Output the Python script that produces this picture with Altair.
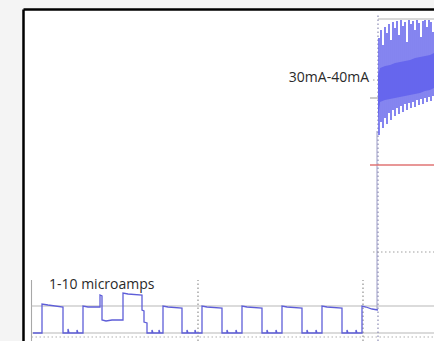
import altair as alt
import pandas as pd

# ---------------- data (time units on x, signal level units on y) ----------------
# lower trace: first irregular part (explicit vertices)
TRACE_T_START = [10, 19, 19, 25, 40, 40, 45, 45, 46, 54, 54, 55, 60, 60, 65, 77, 77, 79, 79, 83, 89, 100,
                 100, 105, 119, 119, 121, 121, 124, 124, 129, 129, 130, 136, 136, 137, 140, 140, 145, 159, 159,
                 164, 164, 165, 172, 172, 173]
TRACE_V_START = [8, 8, 37, 36, 34, 8, 8, 12, 8, 8, 11, 8, 8, 35, 34, 34, 46, 45, 21, 20, 21, 21,
                 48, 47, 46, 31, 30, 19, 18, 8, 8, 11, 8, 8, 11, 8, 8, 35, 34, 33, 8,
                 8, 11, 8, 8, 11, 8]
# regular pulses
PULSE_RISE = [179, 219, 259, 299]
PULSE_FALL = [199, 239, 279, 319]
HIGH_A, HIGH_B, LOW, SPIKE = 35, 33, 8, 11
SPIKE_OFFSETS = [5, 14]
# final high step before the burst
TRACE_T_END = [339, 339, 343, 349, 355]
TRACE_V_END = [8, 35, 34, 32, 31]

# burst (30mA-40mA) : individual spikes
BURST_T = [356, 358, 360, 362, 364, 366, 368, 370, 372, 374, 376, 378, 380, 382,
           384, 386, 388, 390, 392, 394, 396, 398, 400, 402, 404, 406, 408, 410]
BURST_TOP = [303, 311, 296, 314, 308, 317, 301, 319, 313, 320, 306, 321, 315, 319,
             299, 321, 317, 320, 311, 321, 318, 304, 320, 321, 314, 321, 319, 309]
BURST_BOTTOM = [206, 219, 213, 223, 217, 228, 221, 231, 225, 233, 227, 235, 229, 237,
                231, 238, 233, 239, 234, 241, 236, 242, 237, 243, 239, 244, 240, 245]
# burst dense core envelope
CORE_T = [355, 357, 362, 367, 372, 377, 382, 387, 392, 397, 402, 407, 411]
CORE_TOP = [266, 273, 275, 276, 278, 279, 280, 281, 283, 284, 285, 286, 288]
CORE_BOTTOM = [221, 239, 241, 242, 243, 244, 245, 246, 247, 248, 250, 251, 253]

# reference lines (the last one is the faint jump of the trace into the burst)
SOLID_T = [8.5, 8.5, 8.5, 355, 347, 354]
SOLID_T2 = [8.5, 411, 411, 411, 355, 354]
SOLID_V = [0, 35, 8, 322, 243, 32]
SOLID_V2 = [61, 35, 8, 322, 243, 210]
SOLID_COLOR = ["#a8a8a8", "#b8b8b8", "#b8b8b8", "#b4b4b4", "#a0a0a0", "#a4a4cc"]

DOT_T = [8.5, 175, 340, 355, 350, 350]
DOT_T2 = [411, 175, 340, 355, 411, 355]
DOT_V = [4, 0, 0, 0, 89, 261]
DOT_V2 = [4, 61, 61, 326, 89, 261]
DOT_COLOR = ["#b0b0b0", "#909090", "#909090", "#8c8cb4", "#a0a0a0", "#a0a0a0"]

RED_T, RED_T2, RED_V = [347], [411], [176]

LABELS = ["30mA-40mA", "1-10 microamps"]
LABEL_T = [346, 26]
LABEL_V = [259, 52]
LABEL_ALIGN = ["right", "left"]

# ---------------- build tables ----------------
tt = list(TRACE_T_START)
vv = list(TRACE_V_START)
for r, f in zip(PULSE_RISE, PULSE_FALL):
    tt += [r, r, r + 5, f, f]
    vv += [LOW, HIGH_A, HIGH_A - 1, HIGH_B, LOW]
    for o in SPIKE_OFFSETS:
        tt += [f + o, f + o, f + o + 1]
        vv += [LOW, SPIKE, LOW]
tt += TRACE_T_END
vv += TRACE_V_END
trace = pd.DataFrame({"t": tt, "v": vv, "i": range(len(tt))})

burst = pd.DataFrame({"t": BURST_T, "top": BURST_TOP, "bottom": BURST_BOTTOM})
core = pd.DataFrame({"t": CORE_T, "top": CORE_TOP, "bottom": CORE_BOTTOM})
solid = pd.DataFrame({"t": SOLID_T, "t2": SOLID_T2, "v": SOLID_V, "v2": SOLID_V2, "c": SOLID_COLOR})
dots = pd.DataFrame({"t": DOT_T, "t2": DOT_T2, "v": DOT_V, "v2": DOT_V2, "c": DOT_COLOR})
red = pd.DataFrame({"t": RED_T, "t2": RED_T2, "v": RED_V})
labels = pd.DataFrame({"label": LABELS, "t": LABEL_T, "v": LABEL_V, "align": LABEL_ALIGN})

XS = alt.Scale(domain=[0, 411], nice=False, zero=False)
YS = alt.Scale(domain=[0, 332], nice=False, zero=False)
AX_X = alt.Axis(orient="top", domainColor="black", domainWidth=2.5, labels=False,
                ticks=False, grid=False, title=None)
AX_Y = alt.Axis(orient="left", domainColor="black", domainWidth=2.5, labels=False,
                ticks=False, grid=False, title=None)


def X(field="t"):
    return alt.X(f"{field}:Q", scale=XS, axis=AX_X)


def Y(field="v"):
    return alt.Y(f"{field}:Q", scale=YS, axis=AX_Y)


solid_layer = alt.Chart(solid).mark_rule(strokeWidth=1.1).encode(
    x=X(), x2="t2:Q", y=Y(), y2="v2:Q",
    color=alt.Color("c:N", scale=None))

dot_layer = alt.Chart(dots).mark_rule(strokeWidth=1.2, strokeDash=[1.5, 2.5]).encode(
    x=X(), x2="t2:Q", y=Y(), y2="v2:Q", color=alt.Color("c:N", scale=None))

red_layer = alt.Chart(red).mark_rule(strokeWidth=1.6, color="#e07474").encode(
    x=X(), x2="t2:Q", y=Y())

core_layer = alt.Chart(core).mark_area(color="#6a6af2").encode(
    x=X(), y=Y("top"), y2="bottom:Q")

burst_layer = alt.Chart(burst).mark_rule(strokeWidth=1.6, color="#6666ec").encode(
    x=X(), y=Y("top"), y2="bottom:Q")

trace_layer = alt.Chart(trace).mark_line(strokeWidth=1.3, color="#5e5ed8").encode(
    x=X(), y=Y(), order="i:Q")

text_r = alt.Chart(labels[labels["align"] == "right"]).mark_text(
    align="right", baseline="alphabetic", font="Open Sans", fontSize=14, color="#2a2a2a").encode(
    x=X(), y=Y(), text="label:N")
text_l = alt.Chart(labels[labels["align"] == "left"]).mark_text(
    align="left", baseline="alphabetic", font="Open Sans", fontSize=14, color="#2a2a2a").encode(
    x=X(), y=Y(), text="label:N")

chart = alt.layer(
    solid_layer, dot_layer, red_layer, core_layer, burst_layer, trace_layer, text_r, text_l
).properties(
    width=411, height=332,
    padding={"left": 23, "top": 9, "right": 0, "bottom": 0},
    autosize=alt.AutoSizeParams(type="none"),
    background="#f4f4f4",
).configure_view(fill="white", strokeWidth=0)

chart.save("out.html", embed_options={"renderer": "svg", "actions": False})
